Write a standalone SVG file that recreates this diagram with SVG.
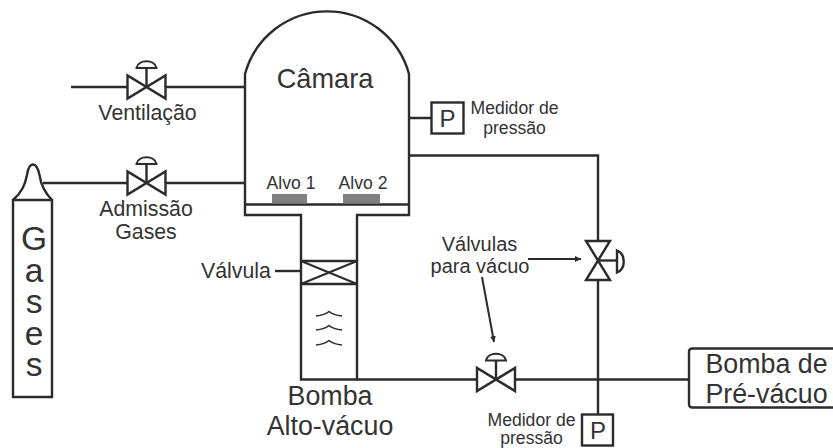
<svg xmlns="http://www.w3.org/2000/svg" width="833" height="448" viewBox="0 0 833 448">
<style>
text{font-family:"Liberation Sans",Arial,sans-serif;fill:#333;text-anchor:middle}
.l{fill:none;stroke:#2b2b2b;stroke-width:2.4}
.t{fill:none;stroke:#2b2b2b;stroke-width:1.6}
.d{fill:none;stroke:#2b2b2b;stroke-width:2}
.a{fill:#2b2b2b;stroke:none}
.s{font-size:17.6px}
.m{font-size:21.3px}
.b{font-size:26.8px}
.p{font-size:24px}
.v{font-size:33.500px;writing-mode:vertical-rl;text-orientation:upright;letter-spacing:-5.500px;text-anchor:start}
</style>
<defs>
<marker id="ah" markerWidth="8" markerHeight="8" refX="6" refY="3" orient="auto" markerUnits="userSpaceOnUse"><path class="a" d="M0 0L6 3L0 6Z"/></marker>
<g id="valve"><path class="l" d="M-19 -11.500V11.500L19 -11.500V11.500Z"/><path class="l" d="M0 0V-19"/><path class="d" d="M-10 -19C-8 -28 8 -28 10 -19Z"/></g>
</defs>
<rect width="833" height="448" fill="#fff"/>
<g id="connectors">
<path class="l" d="M71 87H127M166 87H245M43 183H127M166 183H245"/>
<path class="l" d="M409 118H431M409 155.500H598V241M598 280V414M357 379.500H477M516 379.500H689"/>
<path class="l" d="M275 271H301"/>
<path class="d" d="M528 259H581" marker-end="url(#ah)"/>
<path class="d" d="M482 277L494 342" marker-end="url(#ah)"/>
</g>
<g id="camara">
<path class="l" d="M245 74A85 85 0 0 1 409 74V215H357V379.500H301V215H245Z"/>
<path class="l" d="M245 204.500H409"/>
<rect x="272" y="194" width="35" height="9.500" fill="#808080"/>
<rect x="343" y="194" width="37" height="9.500" fill="#808080"/>
<text x="325" y="88" font-size="27.200">Câmara</text>
<text x="291" y="189" class="s">Alvo 1</text>
<text x="363" y="189" class="s">Alvo 2</text>
</g>
<g id="valvula-ventilacao"><use href="#valve" transform="translate(146.500,87)"/><text x="147.500" y="120" class="m">Ventilação</text></g>
<g id="valvula-admissao"><use href="#valve" transform="translate(146.500,183)"/><text x="146" y="216" class="m">Admissão</text><text x="146" y="239" class="m">Gases</text></g>
<g id="gases">
<path class="l" d="M13 200H52V397H13Z"/>
<path class="l" d="M13 200C22 192 25 185 27 175C28 168 30 164.500 33 164.500C36 164.500 38 168 39.500 175C41 185 44 192 52 200"/>
<text class="v" x="34" y="220">Gases</text>
</g>
<g id="medidor-1"><rect class="l" x="431.500" y="102.500" width="32" height="31"/><text x="447.500" y="127" class="p">P</text><text x="514.500" y="114" class="s">Medidor de</text><text x="514.500" y="134" class="s">pressão</text></g>
<g id="valvula-alto-vacuo">
<path class="l" d="M301 261H357M301 284H357"/><path class="d" d="M301 261L357 284M357 261L301 284"/>
<text x="236" y="278" class="m">Válvula</text>
<path class="t" d="M316 316Q325 315 329 311.500Q333 315 342 316M316 330Q325 329 329 325.500Q333 329 342 330M316 345Q325 344 329 340.500Q333 344 342 345"/>
</g>
<g id="bomba-alto-vacuo"><text x="330" y="405" class="b">Bomba</text><text x="330" y="435" class="b">Alto-vácuo</text></g>
<g id="valvula-vacuo-1">
<path class="l" d="M586 241H610L586 280H610Z"/><path class="l" d="M598 260.500H617"/>
<path class="d" style="stroke-width:2.400" d="M617 250.500C626 254 626 269 617 272.500Z"/>
<text x="479.500" y="251" font-size="20px">Válvulas</text><text x="480" y="273" font-size="20px">para vácuo</text>
</g>
<g id="valvula-vacuo-2"><use href="#valve" transform="translate(496,379.500)"/></g>
<g id="medidor-2"><rect class="l" x="582" y="414.500" width="31" height="31"/><text x="598" y="439" class="p">P</text><text class="s"><tspan x="531.500" y="425.500">Medidor de</tspan><tspan x="531.500" y="443.800">pressão</tspan></text></g>
<g id="bomba-pre-vacuo"><rect class="l" x="689" y="348.500" width="150" height="59" rx="3"/><text x="766.500" y="373" class="b">Bomba de</text><text x="766.500" y="403" class="b">Pré-vácuo</text></g>
</svg>
